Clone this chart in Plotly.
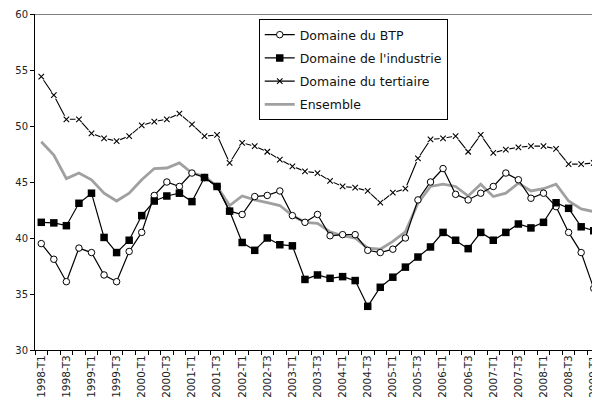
import plotly.graph_objects as go

quarters = [f"{y}-T{q}" for y in range(1998, 2009) for q in range(1, 5)] + ["2009-T1"]

btp = [39.5, 38.1, 36.1, 39.1, 38.7, 36.7, 36.1, 38.8, 40.5, 43.8,
       45.0, 44.6, 45.8, 45.4, 44.6, 42.4, 42.1, 43.7, 43.8, 44.2,
       42.0, 41.4, 42.1, 40.2, 40.3, 40.3, 38.9, 38.7, 39.0, 40.0,
       43.4, 45.0, 46.2, 43.9, 43.4, 44.0, 44.6, 45.8, 45.2, 43.55,
       44.0, 42.8, 40.5, 38.7, 35.5]
industrie = [41.4, 41.35, 41.1, 43.1, 44.0, 40.05, 38.7, 39.8, 42.0, 43.3,
             43.75, 44.0, 43.25, 45.4, 44.6, 42.4, 39.6, 38.9, 40.0, 39.4,
             39.3, 36.3, 36.7, 36.4, 36.55, 36.2, 33.9, 35.6, 36.5, 37.4,
             38.3, 39.2, 40.5, 39.8, 39.05, 40.5, 39.8, 40.5, 41.25, 40.9,
             41.4, 43.15, 42.65, 41.0, 40.65]
tertiaire = [54.4, 52.75, 50.6, 50.6, 49.35, 48.9, 48.65, 49.1, 50.05, 50.4,
             50.6, 51.1, 50.15, 49.1, 49.2, 46.7, 48.5, 48.2, 47.7, 47.0,
             46.4, 45.95, 45.8, 45.1, 44.6, 44.5, 44.2, 43.15, 44.05, 44.4,
             47.1, 48.8, 48.9, 49.1, 47.7, 49.2, 47.6, 47.9, 48.1, 48.2,
             48.2, 47.95, 46.6, 46.6, 46.7]
ensemble = [48.6, 47.4, 45.3, 45.8, 45.2, 44.0, 43.3, 44.0, 45.2, 46.2,
            46.25, 46.7, 45.8, 45.5, 44.6, 42.9, 43.75, 43.4, 43.15, 42.9,
            42.0, 41.4, 41.3, 40.55, 40.2, 40.0, 39.1, 39.0, 39.7, 40.55,
            43.1, 44.6, 44.8, 44.6, 43.75, 44.8, 43.7, 44.0, 44.9, 44.2,
            44.4, 44.8, 43.3, 42.6, 42.35]

names = ["Domaine du BTP", "Domaine de l'industrie", "Domaine du tertiaire", "Ensemble"]

x = list(range(len(quarters)))
tick_idx = x[::2]
tick_txt = quarters[::2]

FONT = "DejaVu Sans"
fig = go.Figure()

# Ensemble (bottom)
fig.add_trace(go.Scatter(x=x, y=ensemble, mode="lines", showlegend=False,
                         line=dict(color="#a0a0a0", width=2.8)))
# BTP
fig.add_trace(go.Scatter(x=x, y=btp, mode="lines+markers", showlegend=False,
                         line=dict(color="black", width=1.2),
                         marker=dict(symbol="circle", size=6.5, color="white",
                                     line=dict(color="black", width=1))))
# Industrie
fig.add_trace(go.Scatter(x=x, y=industrie, mode="lines+markers", showlegend=False,
                         line=dict(color="black", width=1.2),
                         marker=dict(symbol="square", size=7.5, color="black",
                                     line=dict(color="black", width=0))))
# Tertiaire: line, white mask, x marks
fig.add_trace(go.Scatter(x=x, y=tertiaire, mode="lines", showlegend=False,
                         line=dict(color="black", width=1.1)))
fig.add_trace(go.Scatter(x=x, y=tertiaire, mode="markers", showlegend=False,
                         marker=dict(symbol="square", size=7, color="white",
                                     line=dict(width=0))))
fig.add_trace(go.Scatter(x=x, y=tertiaire, mode="markers", showlegend=False,
                         marker=dict(symbol="x-thin", size=5.5,
                                     line=dict(color="black", width=1.1))))

# legend entries
fig.add_trace(go.Scatter(x=[None], y=[None], mode="lines+markers", name=names[0],
                         legendgroup="a",
                         line=dict(color="black", width=1.2),
                         marker=dict(symbol="circle", size=6.5, color="white",
                                     line=dict(color="black", width=1))))
fig.add_trace(go.Scatter(x=[None], y=[None], mode="lines+markers", name=names[1],
                         legendgroup="b",
                         line=dict(color="black", width=1.2),
                         marker=dict(symbol="square", size=7.5, color="black")))
fig.add_trace(go.Scatter(x=[None], y=[None], mode="lines+markers", name=names[2],
                         legendgroup="c",
                         line=dict(color="black", width=1.1),
                         marker=dict(symbol="x-thin", size=5.5,
                                     line=dict(color="black", width=1.1))))
fig.add_trace(go.Scatter(x=[None], y=[None], mode="lines", name=names[3],
                         legendgroup="d",
                         line=dict(color="#a0a0a0", width=2.8)))

fig.add_shape(type="line", xref="paper", yref="y", x0=0, x1=1, y0=60, y1=60,
              line=dict(color="#808080", width=2), layer="below")

# page body has an 8px margin: size the figure so the plot lands where the reference has it
fig.update_layout(
    width=592, height=396,
    margin=dict(l=27, r=0, t=6, b=54),
    paper_bgcolor="white", plot_bgcolor="white",
    font=dict(family=FONT, size=10, color="#222"),
    legend=dict(x=0.396, y=0.985, xanchor="left", yanchor="top",
                bordercolor="black", borderwidth=1, bgcolor="white",
                font=dict(family=FONT, size=12.5, color="#111"),
                traceorder="grouped", tracegroupgap=4, itemwidth=30),
    xaxis=dict(range=[-0.5, len(quarters) - 0.5], tickmode="array",
               tickvals=tick_idx, ticktext=tick_txt, tickangle=-90,
               ticks="", showline=True, linecolor="black", linewidth=1,
               showgrid=False, zeroline=False, automargin=False,
               ticklabeloverflow="allow",
               tickfont=dict(family=FONT, size=10.5, color="#222"),
               minor=dict(tick0=-0.5, dtick=1, ticks="outside", ticklen=4,
                          tickcolor="black", tickwidth=1, showgrid=False)),
    yaxis=dict(range=[30, 60], tickmode="array", tickvals=[30, 35, 40, 45, 50, 55, 60],
               ticks="outside", ticklen=4, tickcolor="black",
               showline=True, linecolor="black", linewidth=1,
               showgrid=False, zeroline=False, automargin=False,
               tickfont=dict(family=FONT, size=10, color="#222")),
)

fig.write_html("out.html")
